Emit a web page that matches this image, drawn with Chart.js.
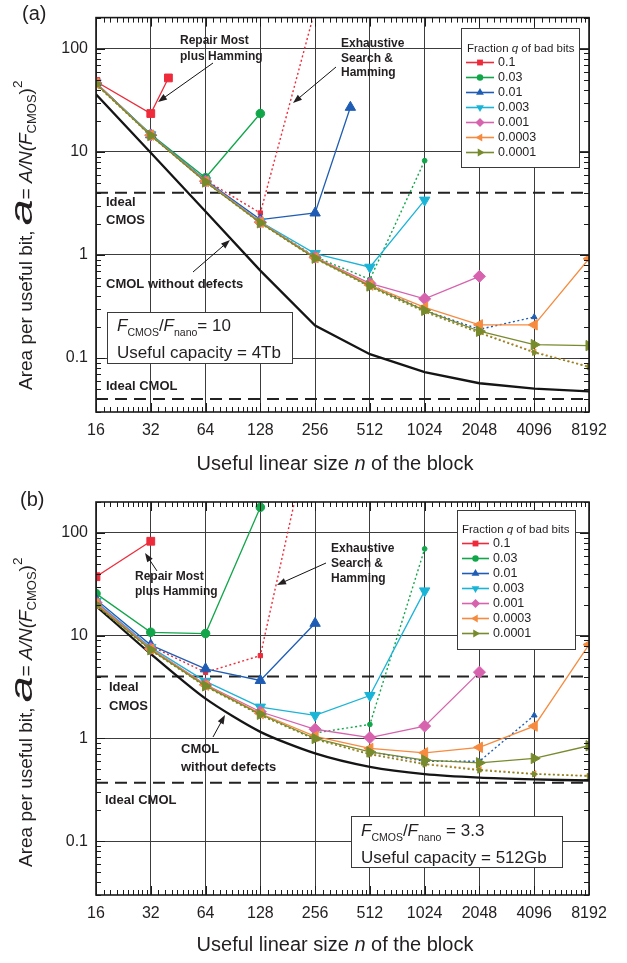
<!DOCTYPE html>
<html>
<head>
<meta charset="utf-8">
<title>Area per useful bit vs block size</title>
<script src="https://cdn.jsdelivr.net/npm/chart.js@4.4.1/dist/chart.umd.min.js"></script>
<style>
  body { margin: 0; background: #fff; }
  .panel { position: absolute; left: 0; }
</style>
</head>
<body>
<canvas id="panelA" class="panel" width="627" height="481" style="top:0"></canvas>
<canvas id="panelB" class="panel" width="627" height="482" style="top:481px"></canvas>
<script>
// axis ticks
const sizes = [16, 32, 64, 128, 256, 512, 1024, 2048, 4096, 8192];
const yTicks = [0.1, 1, 10, 100];
const fractions = ['0.1', '0.03', '0.01', '0.003', '0.001', '0.0003', '0.0001'];

// (a) F_CMOS/F_nano = 10, useful capacity 4Tb
const aQ1x = [16, 32, 40];
const aQ1 = [48, 23.5, 52];
const aQ1dotX = [64, 128, 256];
const aQ1dot = [5.3, 2.55, 240];
const aQ03 = [46.5, 14.8, 5.6, 23.5];
const aQ03dotX = [128, 256, 512, 1024];
const aQ03dot = [2.1, 0.96, 0.58, 8.2];
const aQ01x = [16, 32, 64, 128, 256, 400];
const aQ01 = [46.5, 14.6, 5.3, 2.2, 2.55, 27];
const aQ01dotX = [512, 1024, 2048, 4096];
const aQ01dot = [0.52, 0.29, 0.19, 0.25];
const aQ003 = [46.5, 14.6, 5.25, 2.1, 1.03, 0.76, 3.4];
const aQ001 = [46.5, 14.5, 5.2, 2.08, 0.95, 0.53, 0.375, 0.62];
const aQ0003 = [46, 14.5, 5.15, 2.07, 0.94, 0.51, 0.31, 0.21, 0.21, 0.92];
const aQ0003dot = [45, 14.3, 5.1, 2.04, 0.925, 0.495, 0.285, 0.178, 0.115, 0.083];
const aQ0001 = [45.5, 14.4, 5.1, 2.05, 0.93, 0.5, 0.29, 0.182, 0.135, 0.132];
const aQ0001dot = [45, 14.3, 5.1, 2.03, 0.92, 0.49, 0.28, 0.175, 0.113, 0.082];
const aNoDefects = [36, 9.8, 2.64, 0.705, 0.207, 0.109, 0.073, 0.057, 0.0506, 0.0476];
const aIdealCmos = 4;
const aIdealCmol = 0.04;

// (b) F_CMOS/F_nano = 3.3, useful capacity 512Gb
const bQ1x = [16, 32];
const bQ1 = [37.5, 83];
const bQ1dotX = [32, 64, 128, 256];
const bQ1dot = [7.9, 4.4, 6.4, 1600];
const bQ03 = [25.7, 10.8, 10.5, 178];
const bQ03dotX = [256, 512, 1024];
const bQ03dot = [1.13, 1.37, 70];
const bQ01 = [22.5, 8.1, 4.76, 3.67, 13.2];
const bQ01dotX = [512, 1024, 2048, 4096];
const bQ01dot = [0.74, 0.6, 0.6, 1.68];
const bQ003 = [21.5, 7.7, 3.6, 2.02, 1.68, 2.62, 27.3];
const bQ001 = [21, 7.5, 3.35, 1.82, 1.23, 1.02, 1.32, 4.42];
const bQ0003 = [20.5, 7.4, 3.3, 1.75, 1.05, 0.8, 0.726, 0.82, 1.32, 8.2];
const bQ0003dot = [20, 7.25, 3.22, 1.7, 0.99, 0.71, 0.57, 0.5, 0.455, 0.435];
const bQ0001 = [20, 7.3, 3.25, 1.72, 1.0, 0.74, 0.617, 0.58, 0.64, 0.85];
const bQ0001dot = [19.8, 7.2, 3.2, 1.68, 0.98, 0.7, 0.56, 0.49, 0.45, 0.43];
const bNoDefects = [19.5, 6.65, 2.44, 1.16, 0.716, 0.53, 0.45, 0.416, 0.4, 0.39];
const bIdealCmos = 4;
const bIdealCmol = 0.37;

const ff = '"Liberation Sans", Arial, Helvetica, sans-serif';
const ink = '#231f20';
const font = (size, style) => (style || '') + ' ' + size + 'px ' + ff;

// marker look for each fraction q
const looks = [
  { color: '#ee2b3b', shape: 'rect', rot: 0, r: 5.5 },
  { color: '#12a64b', shape: 'circle', rot: 0, r: 4.3 },
  { color: '#1f5db4', shape: 'triangle', rot: 0, r: 6 },
  { color: '#1ab4d7', shape: 'triangle', rot: 180, r: 6 },
  { color: '#d762ae', shape: 'rectRot', rot: 0, r: 6 },
  { color: '#f68b3f', shape: 'triangle', rot: -90, r: 6 },
  { color: '#778b2d', shape: 'triangle', rot: 90, r: 6 }
];

function pts(xs, ys) {
  return ys.map((y, i) => ({ x: xs[i], y: y }));
}

function series(k, xs, ys, dotted, order) {
  const s = looks[k];
  return {
    label: fractions[k],
    data: pts(xs, ys),
    borderColor: s.color,
    backgroundColor: s.color,
    pointBackgroundColor: s.color,
    pointBorderColor: s.color,
    pointStyle: s.shape,
    pointRotation: s.rot,
    pointRadius: dotted ? s.r * 0.55 : s.r,
    pointBorderWidth: 1,
    borderWidth: dotted ? 1.4 : 1.3,
    borderDash: dotted ? [2, 2.5] : [],
    tension: 0,
    order: order
  };
}

function bareCurve(ys, tension) {
  return { data: pts(sizes, ys), borderColor: '#151515', borderWidth: 2.3, pointRadius: 0, tension: tension, order: 20 };
}

function level(v) {
  return { data: pts([16, 8192], [v, v]), borderColor: '#222', borderWidth: 2, borderDash: [12, 7], pointRadius: 0, order: 21 };
}

function panelSets(p) {
  return [
    series(6, sizes, p.q0001, false, 1),
    series(6, sizes, p.q0001dot, true, 2),
    series(5, sizes, p.q0003, false, 3),
    series(5, sizes, p.q0003dot, true, 4),
    series(4, sizes, p.q001, false, 5),
    series(3, sizes, p.q003, false, 6),
    series(2, p.q01x, p.q01, false, 7),
    series(2, p.q01dotX, p.q01dot, true, 8),
    series(1, sizes, p.q03, false, 9),
    series(1, p.q03dotX, p.q03dot, true, 10),
    series(0, p.q1x, p.q1, false, 11),
    series(0, p.q1dotX, p.q1dot, true, 12),
    bareCurve(p.noDefects, p.tension),
    level(p.cmos),
    level(p.cmol)
  ];
}

// ---- drawing helpers ----
function drawMarker(ctx, look, x, y, r) {
  ctx.save();
  ctx.translate(x, y);
  ctx.rotate(look.rot * Math.PI / 180);
  ctx.beginPath();
  if (look.shape === 'rect') {
    const h = r * Math.SQRT1_2;
    ctx.rect(-h, -h, 2 * h, 2 * h);
  } else if (look.shape === 'circle') {
    ctx.arc(0, 0, r, 0, Math.PI * 2);
  } else if (look.shape === 'rectRot') {
    ctx.moveTo(0, -r); ctx.lineTo(r, 0); ctx.lineTo(0, r); ctx.lineTo(-r, 0);
  } else {
    for (let i = 0; i < 3; i++) {
      const a = i * 2 * Math.PI / 3;
      ctx.lineTo(Math.sin(a) * r, -Math.cos(a) * r);
    }
  }
  ctx.closePath();
  ctx.fillStyle = look.color;
  ctx.fill();
  ctx.restore();
}

function arrow(ctx, x1, y1, x2, y2) {
  const ang = Math.atan2(y2 - y1, x2 - x1), L = 9, W = 3.3;
  ctx.beginPath();
  ctx.moveTo(x1, y1);
  ctx.lineTo(x2 - 6 * Math.cos(ang), y2 - 6 * Math.sin(ang));
  ctx.stroke();
  ctx.beginPath();
  ctx.moveTo(x2, y2);
  ctx.lineTo(x2 - L * Math.cos(ang) + W * Math.sin(ang), y2 - L * Math.sin(ang) - W * Math.cos(ang));
  ctx.lineTo(x2 - L * Math.cos(ang) - W * Math.sin(ang), y2 - L * Math.sin(ang) + W * Math.cos(ang));
  ctx.closePath();
  ctx.fill();
}

function label(ctx, str, x, y, f) {
  ctx.font = f;
  ctx.textAlign = 'left';
  ctx.textBaseline = 'middle';
  ctx.fillText(str, x, y);
}

// rich text: parts drawn one after another on an alphabetic baseline
function runs(ctx, parts, x, y) {
  ctx.textAlign = 'left';
  ctx.textBaseline = 'alphabetic';
  let cx = x;
  parts.forEach(p => {
    ctx.font = p.f;
    const sx = p.sx || 1;
    ctx.save();
    ctx.translate(cx, y + (p.dy || 0));
    ctx.scale(sx, 1);
    ctx.fillText(p.t, 0, 0);
    ctx.restore();
    cx += ctx.measureText(p.t).width * sx;
  });
  return cx - x;
}

function runsWidth(ctx, parts) {
  let w = 0;
  parts.forEach(p => { ctx.font = p.f; w += ctx.measureText(p.t).width * (p.sx || 1); });
  return w;
}

function drawFrame(chart) {
  const { ctx, chartArea: ca, scales: { x, y } } = chart;
  ctx.save();
  ctx.strokeStyle = '#1a1a1a';
  ctx.lineWidth = 1;
  ctx.beginPath();
  for (let i = 0; i < sizes.length - 1; i++) {
    for (let k = 1; k <= 9; k++) {
      const px = Math.round(x.getPixelForValue(sizes[i] * (1 + k / 10))) + 0.5;
      ctx.moveTo(px, ca.bottom); ctx.lineTo(px, ca.bottom - 5);
      ctx.moveTo(px, ca.top); ctx.lineTo(px, ca.top + 5);
    }
  }
  sizes.forEach(v => {
    const px = Math.round(x.getPixelForValue(v)) + 0.5;
    ctx.moveTo(px, ca.bottom); ctx.lineTo(px, ca.bottom - 9);
    ctx.moveTo(px, ca.top); ctx.lineTo(px, ca.top + 9);
  });
  [0.01, 0.1, 1, 10, 100].forEach(d => {
    for (let m = 1; m <= 9; m++) {
      const v = d * m;
      if (v < y.min || v > y.max) continue;
      const py = Math.round(y.getPixelForValue(v)) + 0.5;
      const len = m === 1 ? 9 : 5;
      ctx.moveTo(ca.left, py); ctx.lineTo(ca.left + len, py);
      ctx.moveTo(ca.right, py); ctx.lineTo(ca.right - len, py);
    }
  });
  ctx.stroke();
  ctx.lineWidth = 1.6;
  ctx.strokeRect(ca.left, ca.top, ca.right - ca.left, ca.bottom - ca.top);
  ctx.restore();
}

function drawLegend(ctx, box) {
  ctx.save();
  ctx.fillStyle = '#fff';
  ctx.fillRect(box.x, box.y, box.w, box.h);
  ctx.strokeStyle = '#3a3a3a';
  ctx.lineWidth = 1;
  ctx.strokeRect(box.x + 0.5, box.y + 0.5, box.w, box.h);
  ctx.fillStyle = ink;
  runs(ctx, [
    { t: 'Fraction ', f: font(11.5) },
    { t: 'q', f: font(11.5, 'italic') },
    { t: ' of bad bits', f: font(11.5) }
  ], box.titleX, box.titleY + 4);
  looks.forEach((s, i) => {
    const yy = box.rowY + i * 15;
    ctx.strokeStyle = s.color;
    ctx.lineWidth = 1.6;
    ctx.beginPath();
    ctx.moveTo(box.lineX0, yy); ctx.lineTo(box.lineX1, yy);
    ctx.stroke();
    drawMarker(ctx, s, (box.lineX0 + box.lineX1) / 2, yy, s.r * 0.75);
    ctx.fillStyle = ink;
    label(ctx, fractions[i], box.labelX, yy + 0.5, font(12.5));
  });
  ctx.restore();
}

function drawInfo(ctx, box, ratio, capacity) {
  ctx.save();
  ctx.fillStyle = '#fff';
  ctx.fillRect(box.x, box.y, box.w, box.h);
  ctx.strokeStyle = '#3a3a3a';
  ctx.lineWidth = 1;
  ctx.strokeRect(box.x + 0.5, box.y + 0.5, box.w, box.h);
  ctx.fillStyle = ink;
  runs(ctx, [
    { t: 'F', f: font(17, 'italic') },
    { t: 'CMOS', f: font(10.5), dy: 5 },
    { t: '/', f: font(17) },
    { t: 'F', f: font(17, 'italic') },
    { t: 'nano', f: font(10.5), dy: 5 },
    { t: ratio, f: font(17) }
  ], box.textX, box.line1);
  runs(ctx, [{ t: 'Useful capacity = ' + capacity, f: font(17) }], box.textX, box.line2);
  ctx.restore();
}

function drawAxisTitles(ctx, chart, yStart) {
  ctx.save();
  ctx.fillStyle = ink;
  const xParts = [
    { t: 'Useful linear size ', f: font(20) },
    { t: 'n', f: font(20, 'italic') },
    { t: ' of the block', f: font(20) }
  ];
  const w = runsWidth(ctx, xParts);
  runs(ctx, xParts, 335 - w / 2, 470);
  ctx.translate(32, yStart);
  ctx.rotate(-Math.PI / 2);
  runs(ctx, [
    { t: 'Area per useful bit, ', f: font(19) },
    { t: 'a', f: font(31, 'italic'), sx: 1.5 },
    { t: '= ', f: font(19) },
    { t: 'A/N(F', f: font(19, 'italic') },
    { t: 'CMOS', f: font(13), dy: 4 },
    { t: ')', f: font(19) },
    { t: '2', f: font(13.5), dy: -10 }
  ], 0, 0);
  ctx.restore();
}

function decorPlugin(annotate) {
  return {
    id: 'decor',
    afterDraw(chart) {
      drawFrame(chart);
      const ctx = chart.ctx;
      ctx.save();
      ctx.fillStyle = ink;
      ctx.strokeStyle = '#111';
      ctx.lineWidth = 1;
      annotate(ctx, chart);
      ctx.restore();
    }
  };
}

function makeChart(id, sets, top, xAxisHeight, annotate) {
  return new Chart(document.getElementById(id), {
    type: 'line',
    data: { datasets: sets },
    options: {
      responsive: false,
      animation: false,
      layout: { padding: { left: 0, right: 38, top: top, bottom: 0 } },
      plugins: { legend: { display: false }, tooltip: { enabled: false } },
      scales: {
        x: {
          type: 'logarithmic',
          min: 16,
          max: 8192,
          afterBuildTicks: ax => { ax.ticks = sizes.map(v => ({ value: v })); },
          afterFit: ax => { ax.height = xAxisHeight; },
          ticks: { callback: v => String(v), autoSkip: false, maxRotation: 0, padding: 9, color: ink, font: { family: ff, size: 16 } },
          grid: { color: '#3c3c3c', lineWidth: 1, drawTicks: false },
          border: { display: false }
        },
        y: {
          type: 'logarithmic',
          min: 0.03,
          max: 200,
          afterBuildTicks: ax => { ax.ticks = yTicks.map(v => ({ value: v })); },
          afterFit: ax => { ax.width = 96; },
          ticks: { callback: v => String(v), autoSkip: false, padding: 8, color: ink, font: { family: ff, size: 16 } },
          grid: { color: '#3c3c3c', lineWidth: 1, drawTicks: false },
          border: { display: false }
        }
      }
    },
    plugins: [decorPlugin(annotate)]
  });
}

const bold12 = font(12, 'bold');
const bold13 = font(13, 'bold');

makeChart('panelA', panelSets({
  q1x: aQ1x, q1: aQ1, q1dotX: aQ1dotX, q1dot: aQ1dot,
  q03: aQ03, q03dotX: aQ03dotX, q03dot: aQ03dot,
  q01x: aQ01x, q01: aQ01, q01dotX: aQ01dotX, q01dot: aQ01dot,
  q003: aQ003, q001: aQ001, q0003: aQ0003, q0003dot: aQ0003dot,
  q0001: aQ0001, q0001dot: aQ0001dot,
  noDefects: aNoDefects, tension: 0, cmos: aIdealCmos, cmol: aIdealCmol
}), 17, 69, (ctx, chart) => {
  label(ctx, '(a)', 22, 14, font(20));
  label(ctx, 'Repair Most', 180, 41, bold12);
  label(ctx, 'plus Hamming', 180, 57, bold12);
  arrow(ctx, 213, 63, 158, 102);
  label(ctx, 'Exhaustive', 341, 44, bold12);
  label(ctx, 'Search &', 341, 59, bold12);
  label(ctx, 'Hamming', 341, 73, bold12);
  arrow(ctx, 336, 67, 293, 103);
  label(ctx, 'Ideal', 106, 202, bold13);
  label(ctx, 'CMOS', 106, 220, bold13);
  label(ctx, 'CMOL without defects', 106, 284, bold13);
  arrow(ctx, 193, 272, 230, 240);
  label(ctx, 'Ideal CMOL', 106, 386, bold13);
  drawInfo(ctx, { x: 107, y: 312, w: 185, h: 51, textX: 117, line1: 331, line2: 358 }, '= 10', '4Tb');
  drawLegend(ctx, { x: 461, y: 28, w: 118, h: 139, titleX: 467, titleY: 48, rowY: 62.5, lineX0: 466, lineX1: 494, labelX: 498 });
  drawAxisTitles(ctx, chart, 390);
});

makeChart('panelB', panelSets({
  q1x: bQ1x, q1: bQ1, q1dotX: bQ1dotX, q1dot: bQ1dot,
  q03: bQ03, q03dotX: bQ03dotX, q03dot: bQ03dot,
  q01x: sizes, q01: bQ01, q01dotX: bQ01dotX, q01dot: bQ01dot,
  q003: bQ003, q001: bQ001, q0003: bQ0003, q0003dot: bQ0003dot,
  q0001: bQ0001, q0001dot: bQ0001dot,
  noDefects: bNoDefects, tension: 0.25, cmos: bIdealCmos, cmol: bIdealCmol
}), 21, 68, (ctx, chart) => {
  label(ctx, '(b)', 20, 19, font(20));
  label(ctx, 'Repair Most', 135, 96, bold12);
  label(ctx, 'plus Hamming', 135, 111, bold12);
  arrow(ctx, 157, 90, 145, 72);
  label(ctx, 'Exhaustive', 331, 68, bold12);
  label(ctx, 'Search &', 331, 83, bold12);
  label(ctx, 'Hamming', 331, 98, bold12);
  arrow(ctx, 326, 82, 277, 104);
  label(ctx, 'Ideal', 109, 206, bold13);
  label(ctx, 'CMOS', 109, 225, bold13);
  label(ctx, 'CMOL', 181, 268, bold13);
  label(ctx, 'without defects', 181, 286, bold13);
  arrow(ctx, 213, 256, 225, 234);
  label(ctx, 'Ideal CMOL', 105, 319, bold13);
  drawInfo(ctx, { x: 351, y: 335, w: 211, h: 51, textX: 361, line1: 354.5, line2: 382 }, ' = 3.3', '512Gb');
  drawLegend(ctx, { x: 457, y: 29, w: 118, h: 139, titleX: 462, titleY: 48, rowY: 62.5, lineX0: 462, lineX1: 489, labelX: 493 });
  drawAxisTitles(ctx, chart, 386);
});
</script>
</body>
</html>
